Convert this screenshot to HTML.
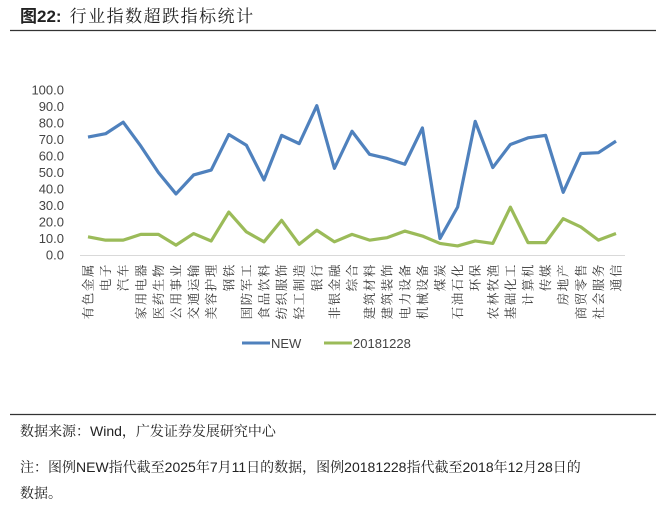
<!DOCTYPE html>
<html><head><meta charset="utf-8"><style>
body{margin:0;background:#fff;width:660px;height:508px;overflow:hidden;font-family:"Liberation Sans","Noto Sans CJK SC",sans-serif;}
</style></head><body>
<svg id="s" width="660" height="508" xmlns="http://www.w3.org/2000/svg" style="position:absolute;left:0;top:0">
<text x="20" y="22" font-size="17" font-weight="bold" fill="#222" font-family="Liberation Sans,Noto Sans CJK SC,sans-serif">图22:<tspan font-weight="normal" dx="8" letter-spacing="1.5" font-family="Noto Serif CJK SC,serif">行业指数超跌指标统计</tspan></text>
<line x1="10" y1="30.5" x2="656" y2="30.5" stroke="#333" stroke-width="1.2"/>
<line x1="80" y1="255.5" x2="625" y2="255.5" stroke="#d9d9d9" stroke-width="1"/>
<g id="g"></g>
<line x1="242" y1="343" x2="270" y2="343" stroke="#4f81bd" stroke-width="3"/>
<text x="271" y="348" font-size="13" fill="#444">NEW</text>
<line x1="324" y1="343" x2="352" y2="343" stroke="#9bbb59" stroke-width="3"/>
<text x="353" y="348" font-size="13" fill="#444">20181228</text>
<line x1="10" y1="414.5" x2="656" y2="414.5" stroke="#333" stroke-width="1.2"/>
<text x="20" y="436" font-size="14" fill="#222"><tspan font-family="Noto Serif CJK SC,serif">数据来源：</tspan>Wind<tspan font-family="Noto Serif CJK SC,serif">，广发证券发展研究中心</tspan></text>
<text x="20" y="472" font-size="14" fill="#222"><tspan font-family="Noto Serif CJK SC,serif">注：图例</tspan>NEW<tspan font-family="Noto Serif CJK SC,serif">指代截至</tspan>2025<tspan font-family="Noto Serif CJK SC,serif">年</tspan>7<tspan font-family="Noto Serif CJK SC,serif">月</tspan>11<tspan font-family="Noto Serif CJK SC,serif">日的数据，图例</tspan>20181228<tspan font-family="Noto Serif CJK SC,serif">指代截至</tspan>2018<tspan font-family="Noto Serif CJK SC,serif">年</tspan>12<tspan font-family="Noto Serif CJK SC,serif">月</tspan>28<tspan font-family="Noto Serif CJK SC,serif">日的</tspan></text>
<text x="20" y="498" font-size="14" fill="#222" font-family="Noto Serif CJK SC,serif">数据。</text>
</svg>
<script>
var cats="有色金属,电子,汽车,家用电器,医药生物,公用事业,交通运输,美容护理,钢铁,国防军工,食品饮料,纺织服饰,轻工制造,银行,非银金融,综合,建筑材料,建筑装饰,电力设备,机械设备,煤炭,石油石化,环保,农林牧渔,基础化工,计算机,传媒,房地产,商贸零售,社会服务,通信".split(",");
var a=[71.5,73.5,80.5,66,50,37,48.5,51.5,73,66.5,45.5,72.5,67.5,90.5,52.5,75,61,58.5,55,77,10,29,81,53,67,71,72.5,38,61.5,62,69];
var b=[11,9,9,12.5,12.5,6,13,8.5,26,14,8,21,6.5,15,8,12.5,9,10.5,14.5,11.5,7,5.5,8.5,7,29,7.5,7.5,22,17,9,13];
var h='',X=function(i){return 88+i*17.6},Y=function(v){return 255-v*1.65};
for(var k=0;k<=10;k++){h+='<text x="64" y="'+(Y(k*10)+4.5)+'" font-size="13" fill="#444" text-anchor="end">'+(k*10)+'.0</text>';}
function pl(d,c){return '<polyline fill="none" stroke="'+c+'" stroke-width="3.2" stroke-linejoin="round" points="'+d.map(function(v,i){return X(i)+','+Y(v)}).join(' ')+'"/>';}
h+=pl(a,'#4f81bd')+pl(b,'#9bbb59');
cats.forEach(function(c,i){h+='<text transform="translate('+(X(i)+4.5)+',263) rotate(-90)" font-size="12.5" fill="#333" text-anchor="end" font-family="Noto Serif CJK SC,serif" letter-spacing="1.6">'+c+'</text>';});
document.getElementById('g').innerHTML=h;
</script>
</body></html>
